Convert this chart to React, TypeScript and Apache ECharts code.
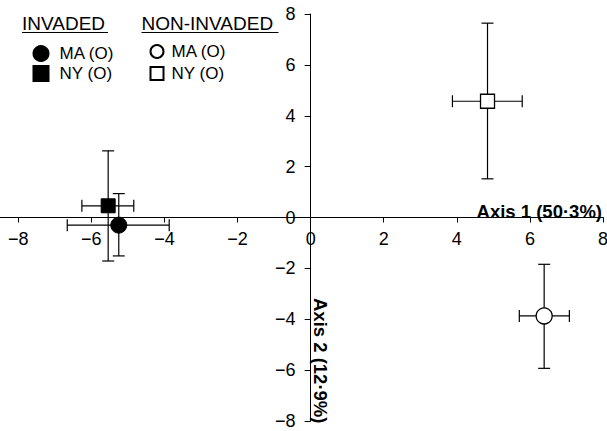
import React, { useEffect, useRef } from "react";
import * as echarts from "echarts";

const groupNames = ["INVADED|MA (O)", "INVADED|NY (O)", "NON-INVADED|MA (O)", "NON-INVADED|NY (O)"];
const axis1Mean = [-5.25, -5.54, 6.39, 4.84];
const axis1Low = [-6.66, -6.26, 5.71, 3.88];
const axis1High = [-3.87, -4.84, 7.08, 5.79];
const axis2Mean = [-0.3, 0.46, -3.87, 4.57];
const axis2Low = [-1.51, -1.71, -5.93, 1.52];
const axis2High = [0.94, 2.62, -1.84, 7.64];
const symbols = ["circle", "rect", "circle", "rect"];
const symbolSizes = [16, 14, 16, 14];
const filled = [true, true, false, false];
const tickValues = [-8, -6, -4, -2, 0, 2, 4, 6, 8];
const axis1Title = "Axis 1 (50\u00b73%)";
const axis2Title = "Axis 2 (12\u00b79%)";
const legendHeaders = ["INVADED", "NON-INVADED"];

const FONT = "'Liberation Sans', Arial, sans-serif";
const fmt = (v: number) => (v < 0 ? "\u2212" + Math.abs(v) : String(v));

const W = 607, H = 431;
const G = { left: 0, right: 4, top: 14, bottom: 10 };
const X_MIN = -8.5, X_MAX = 8, Y_MIN = -8, Y_MAX = 8;

export default function App() {
  const ref = useRef<HTMLDivElement>(null);
  useEffect(() => {
    document.body.style.margin = "0";
    const chart = echarts.init(ref.current!, null, { renderer: "svg" });
    const errData = groupNames.map((_, i) => [
      axis1Mean[i], axis2Mean[i], axis1Low[i], axis1High[i], axis2Low[i], axis2High[i],
    ]);
    const lineStyle = { stroke: "#000", lineWidth: 1.2 };
    const cap = 6;
    const gw = W - G.left - G.right;
    const gh = H - G.top - G.bottom;
    const yAxisOffset = -((0 - X_MIN) / (X_MAX - X_MIN)) * gw;
    const xAxisOffset = -((0 - Y_MIN) / (Y_MAX - Y_MIN)) * gh;
    const series: any[] = [
      {
        type: "custom",
        name: "errors",
        data: errData,
        encode: { x: 0, y: 1 },
        z: 1,
        renderItem: (params: any, api: any) => {
          const x = api.value(0), y = api.value(1);
          const l = api.coord([api.value(2), y]);
          const r = api.coord([api.value(3), y]);
          const b = api.coord([x, api.value(4)]);
          const t = api.coord([x, api.value(5)]);
          const ln = (x1: number, y1: number, x2: number, y2: number) => ({
            type: "line", shape: { x1, y1, x2, y2 }, style: lineStyle,
          });
          return {
            type: "group",
            children: [
              ln(l[0], l[1], r[0], r[1]),
              ln(l[0], l[1] - cap, l[0], l[1] + cap),
              ln(r[0], r[1] - cap, r[0], r[1] + cap),
              ln(t[0], t[1], b[0], b[1]),
              ln(t[0] - cap, t[1], t[0] + cap, t[1]),
              ln(b[0] - cap, b[1], b[0] + cap, b[1]),
            ],
          };
        },
      },
    ];
    groupNames.forEach((name, i) => {
      series.push({
        type: "scatter",
        name,
        z: 5,
        symbol: symbols[i],
        symbolSize: symbolSizes[i],
        data: [[axis1Mean[i], axis2Mean[i]]],
        itemStyle: filled[i]
          ? { color: "#000", borderColor: "#000", borderWidth: 1, opacity: 1 }
          : { color: "#fff", borderColor: "#000", borderWidth: 1.3, opacity: 1 },
      });
    });
    const legendBase = {
      orient: "vertical",
      padding: 0,
      formatter: (n: string) => n.split("|")[1],
      selectedMode: false,
    };
    chart.setOption({
      animation: false,
      textStyle: { fontFamily: FONT },
      grid: { ...G, containLabel: false, outerBoundsMode: "none" },
      xAxis: {
        type: "value",
        min: X_MIN,
        max: X_MAX,
        position: "bottom",
        offset: xAxisOffset,
        splitLine: { show: false },
        axisLine: { onZero: false, lineStyle: { color: "#000", width: 1 } },
        axisTick: { show: true, length: 5, customValues: tickValues, lineStyle: { color: "#000" } },
        axisLabel: { customValues: tickValues, formatter: fmt, fontSize: 18, color: "#000", margin: 12, fontFamily: FONT },
      },
      yAxis: {
        type: "value",
        min: Y_MIN,
        max: Y_MAX,
        interval: 2,
        position: "left",
        offset: yAxisOffset,
        splitLine: { show: false },
        axisLine: { onZero: false, lineStyle: { color: "#000", width: 1 } },
        axisTick: { show: true, length: 6, lineStyle: { color: "#000" } },
        axisLabel: { formatter: fmt, fontSize: 18, color: "#000", margin: 15, fontFamily: FONT },
      },
      legend: [
        {
          ...legendBase,
          left: 32.5,
          top: 45,
          itemWidth: 15,
          itemHeight: 15,
          itemGap: 3,
          textStyle: { fontSize: 17, color: "#000", fontFamily: FONT, padding: [0, 0, 0, 6] },
          data: [groupNames[0], groupNames[1]],
        },
        {
          ...legendBase,
          left: 149.5,
          top: 43,
          itemWidth: 13,
          itemHeight: 13,
          itemGap: 5,
          textStyle: { fontSize: 17, color: "#000", fontFamily: FONT, padding: [0, 0, 0, 3] },
          data: [groupNames[2], groupNames[3]],
        },
      ],
      graphic: [
        {
          type: "text",
          x: 22,
          y: 23.5,
          style: { text: legendHeaders[0], font: `19px ${FONT}`, fill: "#000", verticalAlign: "middle" },
        },
        { type: "line", shape: { x1: 22, y1: 32.5, x2: 108, y2: 32.5 }, style: { stroke: "#000", lineWidth: 1.2 } },
        {
          type: "text",
          x: 141.5,
          y: 23.5,
          style: { text: legendHeaders[1], font: `19px ${FONT}`, fill: "#000", verticalAlign: "middle" },
        },
        { type: "line", shape: { x1: 141.5, y1: 32.5, x2: 278.5, y2: 32.5 }, style: { stroke: "#000", lineWidth: 1.2 } },
        {
          type: "text",
          x: 602,
          y: 211,
          style: { text: axis1Title, font: `bold 18.5px ${FONT}`, fill: "#000", align: "right", verticalAlign: "middle" },
        },
        {
          type: "text",
          x: 320,
          y: 298,
          rotation: -Math.PI / 2,
          style: { text: axis2Title, font: `bold 18.5px ${FONT}`, fill: "#000", align: "left", verticalAlign: "middle" },
        },
      ],
      series,
    });
    return () => chart.dispose();
  }, []);
  return <div ref={ref} style={{ width: W, height: H }} />;
}
